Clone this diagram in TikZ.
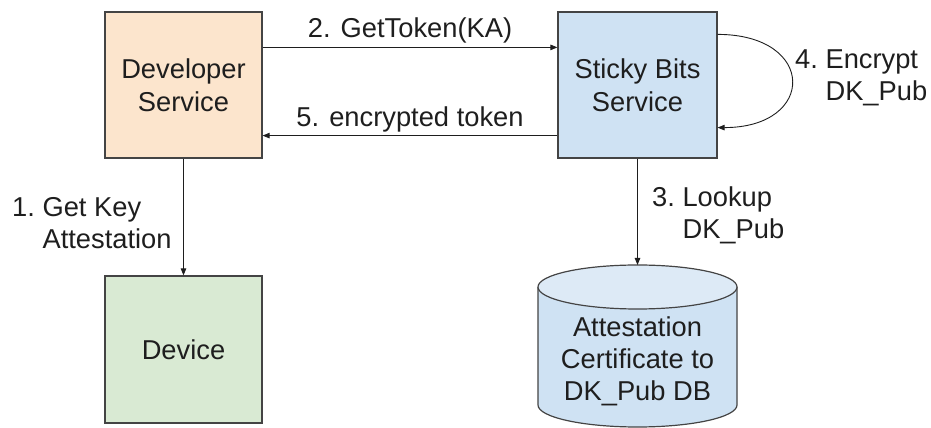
\documentclass[tikz,border=0pt]{standalone}
\usepackage{fontspec}
\setmainfont{Liberation Sans}
\usetikzlibrary{arrows.meta}

\definecolor{devfill}{HTML}{FCE5CD}
\definecolor{svcfill}{HTML}{CFE2F3}
\definecolor{dbtop}{HTML}{DDEAF6}
\definecolor{devicefill}{HTML}{D9EAD3}
\definecolor{edge}{HTML}{444444}
\definecolor{ink}{HTML}{1E1E1E}

% numbered label with a hanging indent: #1 = number, #2 = first line, #3 = second line
\newcommand\numlabel[3]{\begin{tabular}[t]{@{}l@{\ }l@{}}#1&#2\\&#3\end{tabular}}

\begin{document}
\begin{tikzpicture}[x=1pt,y=1pt,
  every node/.style={text=ink},
  txt/.style={font=\fontsize{27.3}{33}\selectfont},
  lbl/.style={font=\fontsize{27.3}{32}\selectfont, inner sep=0pt},
  boxnode/.style={draw=edge, line width=1.2pt, txt, align=center, inner sep=0pt},
  arr/.style={draw=ink, line width=0.9pt, -{Triangle[length=7pt,width=5.5pt]}}
]
\useasboundingbox (0,0) rectangle (931,428);

% services and device
\node[boxnode, fill=devfill, minimum width=157pt, minimum height=146pt] (dev) at (183.5,343) {Developer\\Service};
\node[boxnode, fill=svcfill, minimum width=159pt, minimum height=146pt] (sticky) at (637.5,343) {Sticky Bits\\Service};
\node[boxnode, fill=devicefill, minimum width=157pt, minimum height=147pt] (device) at (183.5,78.5) {Device};

% database cylinder
\fill[svcfill] (538,141) -- (538,23) arc[start angle=180, end angle=360, x radius=99.5, y radius=22]
  -- (737,141) arc[start angle=0, end angle=180, x radius=99.5, y radius=22] -- cycle;
\draw[edge, line width=1.2pt] (538,141) -- (538,23) arc[start angle=180, end angle=360, x radius=99.5, y radius=22] -- (737,141);
\draw[edge, line width=1.2pt, fill=dbtop] (637.5,141) ellipse[x radius=99.5, y radius=22];
\coordinate (dbtopc) at (637.5,163);
\node[lbl, anchor=base] (db) at (637.5,91)
  {\begin{tabular}[t]{@{}c@{}}Attestation\\Certificate to\\DK\_Pub DB\end{tabular}};

% connectors
\draw[arr] ([yshift=-36pt]dev.north east) -- node[lbl, anchor=base, yshift=10pt] (l2) {2. GetToken(KA)} ([yshift=-36pt]sticky.north west);
\draw[arr] ([yshift=23pt]sticky.south west) -- node[lbl, anchor=base, yshift=9pt] (l5) {5. encrypted token} ([yshift=23pt]dev.south east);
\draw[arr] ([yshift=-23pt]sticky.north east) .. controls +(99,0) and +(99,0) .. ([yshift=31pt]sticky.south east);
\draw[arr] (dev.south) -- (device.north);
\draw[arr] (sticky.south) -- (dbtopc);

% step labels
\node[lbl, anchor=base west] (l1) at (12,211) {\numlabel{1.}{Get Key}{Attestation}};
\node[lbl, anchor=base west] (l3) at (652,221) {\numlabel{3.}{Lookup}{DK\_Pub}};
\node[lbl, anchor=base west] (l4) at (795,359) {\numlabel{4.}{Encrypt}{DK\_Pub}};
\end{tikzpicture}
\end{document}
